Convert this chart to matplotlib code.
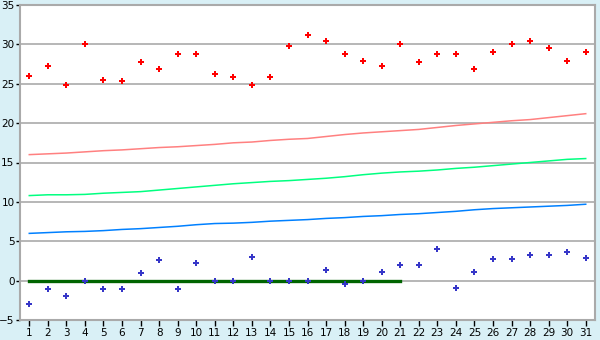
import numpy as np
import matplotlib.pyplot as plt

days = np.arange(1, 32)

high_pts = [26.0, 27.2, 24.9, 30.0, 25.5, 25.3, 27.8, 26.9, 28.8, 28.8,
            26.3, 25.8, 24.9, 25.8, 29.8, 31.2, 30.4, 28.8, 27.9, 27.2,
            30.0, 27.8, 28.8, 28.8, 26.9, 29.0, 30.0, 30.4, 29.5, 27.9, 29.0]
low_pts = [-3.0, -1.0, -2.0, 0.0, -1.0, -1.0, 1.0, 2.6, -1.1, 2.2,
           0.0, 0.0, 3.0, 0.0, 0.0, 0.0, 1.4, -0.4, 0.0, 1.1,
           2.0, 2.0, 4.0, -0.9, 1.1, 2.8, 2.8, 3.2, 3.3, 3.6, 2.9]
red_line = [16.0, 16.1, 16.2, 16.35, 16.5, 16.6, 16.75, 16.9, 17.0, 17.15,
            17.3, 17.5, 17.6, 17.8, 17.95, 18.05, 18.3, 18.55, 18.75, 18.9,
            19.05, 19.2, 19.45, 19.7, 19.9, 20.1, 20.3, 20.45, 20.7, 20.95, 21.2]
green_line = [10.8, 10.9, 10.9, 10.95, 11.1, 11.2, 11.3, 11.5, 11.7, 11.9,
              12.1, 12.3, 12.45, 12.6, 12.7, 12.85, 13.0, 13.2, 13.45, 13.65,
              13.8, 13.9, 14.05, 14.25, 14.4, 14.6, 14.8, 15.0, 15.2, 15.4, 15.5]
blue_line = [6.0, 6.1, 6.2, 6.25, 6.35, 6.5, 6.6, 6.75, 6.9, 7.1,
             7.25, 7.3, 7.4, 7.55, 7.65, 7.75, 7.9, 8.0, 8.15, 8.25,
             8.4, 8.5, 8.65, 8.8, 9.0, 9.15, 9.25, 9.35, 9.45, 9.55, 9.7]
zero_days = days[:21]
zero_vals = [0.0] * 21

bg = "#d9f0f6"
fig = plt.figure(figsize=(6, 3.4), dpi=100, facecolor=bg)
ax = fig.add_axes([20 / 600, 20 / 340, 575 / 600, 315 / 340])
ax.set_facecolor("white")

ax.set_ylim(-5, 35)
ax.set_xlim(0.5, 31.5)
ax.set_yticks(np.arange(-5, 36, 5))
ax.set_xticks(days)
ax.grid(axis="y", color="#aaaaaa", linewidth=1.2)
ax.set_axisbelow(True)

ax.plot(days, red_line, color="#ff8080", linewidth=1.1)
ax.plot(days, green_line, color="#00ff80", linewidth=1.1)
ax.plot(days, blue_line, color="#0080ff", linewidth=1.1)
ax.plot(zero_days, zero_vals, color="#006400", linewidth=2.4)
ax.plot(days, high_pts, linestyle="none", marker="P", markersize=5,
        color="#ff0000", markeredgewidth=0)
ax.plot(days, low_pts, linestyle="none", marker="P", markersize=4.2,
        color="#3636c8", markeredgewidth=0)

for s in ax.spines.values():
    s.set_color("#aaaaaa")
    s.set_linewidth(1.5)
ax.tick_params(axis="y", length=3, width=1, color="black", labelsize=7.5, pad=1)
ax.tick_params(axis="x", length=4, width=1, color="black", labelsize=7.5, pad=2)

fig.savefig("out.png", dpi=100, facecolor=bg)
